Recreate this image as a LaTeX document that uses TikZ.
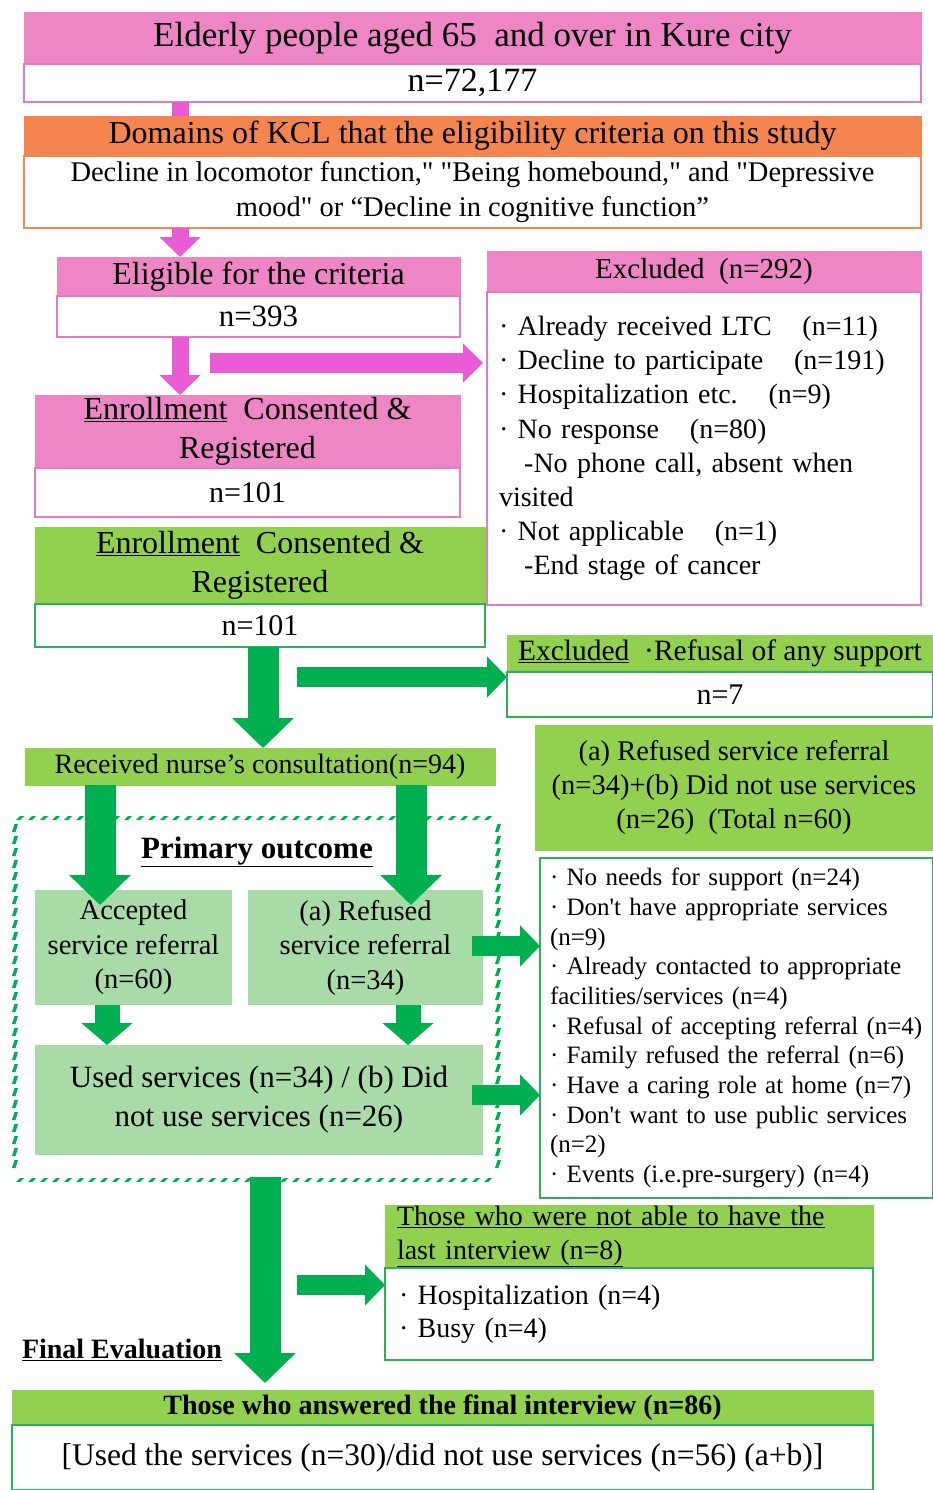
\documentclass[tikz,border=0pt]{standalone}
\usepackage{fontspec}
\setmainfont{Liberation Serif}
\usetikzlibrary{arrows.meta}

\definecolor{pinkH}{HTML}{EE86C6}
\definecolor{pinkB}{HTML}{E07CC8}
\definecolor{pinkA}{HTML}{EA5CD6}
\definecolor{orangeH}{HTML}{F5854F}
\definecolor{orangeB}{HTML}{F08A50}
\definecolor{greenH}{HTML}{92D050}
\definecolor{greenB}{HTML}{2EAF5A}
\definecolor{greenL}{HTML}{A8DBA8}
\definecolor{greenA}{HTML}{00B050}

\newcommand{\boxfont}[2]{\fontsize{#1}{#2}\selectfont}
\newcommand{\undl}[1]{\underline{#1}}

\begin{document}
\begin{tikzpicture}[x=1pt, y=-1pt,
  every node/.style={inner sep=0pt, outer sep=0pt},
  pinkhead/.style={fill=pinkH, draw=pinkH},
  pinkbox/.style={fill=white, draw=pinkB, line width=1.5pt},
  orangehead/.style={fill=orangeH, draw=orangeH},
  orangebox/.style={fill=white, draw=orangeB, line width=1.5pt},
  greenhead/.style={fill=greenH, draw=greenH},
  greenbox/.style={fill=white, draw=greenB, line width=1.5pt},
  lightbox/.style={fill=greenL},
  hatch/.style={fill=greenA},
  pinkarrow/.style={draw=pinkA, line width=17pt, -{Triangle[length=20pt,width=40pt]}},
  pinkside/.style={draw=pinkA, line width=20pt, -{Triangle[length=20pt,width=38pt]}},
  greenarrow/.style={draw=greenA, line width=31pt, -{Triangle[length=30pt,width=60pt]}},
  greenside/.style={draw=greenA, line width=20pt, -{Triangle[length=20pt,width=40pt]}},
  smallarrow/.style={draw=greenA, line width=25pt, -{Triangle[length=22pt,width=50pt]}}]
\useasboundingbox[fill=white] (0,0) rectangle (933,1490);

% top of the chart (pink / orange)
\node[pinkhead, minimum width=897pt, minimum height=52pt, font=\boxfont{35}{40}] (elderly) at (472.5,38) {Elderly people aged 65\ \ and over in Kure city};
\node[pinkbox, minimum width=897pt, minimum height=38pt, font=\boxfont{34}{40}] (elderlyN) at (472.5,83) {n=72,177};
\node[orangehead, minimum width=897pt, minimum height=40pt, font=\boxfont{32}{36}] (domains) at (472.5,136) {Domains of KCL that the eligibility criteria on this study};
\node[orangebox, minimum width=897pt, minimum height=72pt, align=center, font=\boxfont{28.5}{35}] (domainsN) at (472.5,192) {Decline in locomotor function,\textquotedbl{} \textquotedbl{}Being homebound,\textquotedbl{} and \textquotedbl{}Depressive\\ mood\textquotedbl{} or “Decline in cognitive function”};

\node[pinkhead, minimum width=403pt, minimum height=39pt, font=\boxfont{32}{36}] (eligible) at (258.5,276.5) {Eligible for the criteria};
\node[pinkbox, minimum width=403pt, minimum height=41pt, font=\boxfont{31}{36}] (eligibleN) at (258.5,316.5) {n=393};

\node[pinkhead, minimum width=434pt, minimum height=41pt, font=\boxfont{29}{34}] (excl) at (704,271.5) {Excluded\hspace{0.5em}(n=292)};
\node[pinkbox, minimum height=313pt, text width=410pt, inner xsep=12pt, align=left, font=\boxfont{28}{34.2}] (exclN) at (704,448.5) {%
· Already received LTC\hspace{1.1em}(n=11)\\
· Decline to participate\hspace{1.1em}(n=191)\\
· Hospitalization etc.\hspace{1.1em}(n=9)\\
· No response\hspace{1.1em}(n=80)\\
\hspace*{0.9em}-No phone call, absent when\\
visited\\
· Not applicable\hspace{1.1em}(n=1)\\
\hspace*{0.9em}-End stage of cancer};

\node[pinkhead, minimum width=425pt, minimum height=73pt, align=center, font=\boxfont{32}{39}] (enrollP) at (247.5,431.5) {\undl{Enrollment}\ \ Consented \&\\ Registered};
\node[pinkbox, minimum width=425pt, minimum height=49pt, font=\boxfont{30}{36}] (enrollPN) at (247.5,492.5) {n=101};

% green part
\node[greenhead, minimum width=450pt, minimum height=77pt, align=center, font=\boxfont{32}{39}] (enrollG) at (260,565.5) {\undl{Enrollment}\ \ Consented \&\\ Registered};
\node[greenbox, minimum width=450pt, minimum height=43pt, font=\boxfont{30}{36}] (enrollGN) at (260,625.5) {n=101};

\node[greenhead, minimum width=426pt, minimum height=37pt, font=\boxfont{29.5}{34}] (refusal) at (720,653.5) {\undl{Excluded}\ \ ·Refusal of any support};
\node[greenbox, minimum width=426pt, minimum height=45pt, font=\boxfont{30}{36}] (refusalN) at (720,694.5) {n=7};

\node[greenhead, minimum width=398pt, minimum height=125pt, align=center, font=\boxfont{28.5}{34}] (total) at (734,787.5) {(a) Refused service referral\\(n=34)+(b) Did not use services\\(n=26)\ \ (Total n=60)};

\node[greenbox, minimum height=340pt, text width=373pt, inner xsep=10pt, align=left, font=\boxfont{25}{29.7}] (reasons) at (736.5,1028) {%
· No needs for support (n=24)\\
· Don\textquotesingle t have appropriate services\\
(n=9)\\
· Already contacted to appropriate\\
facilities/services (n=4)\\
· Refusal of accepting referral (n=4)\\
· Family refused the referral (n=6)\\
· Have a caring role at home (n=7)\\
· Don\textquotesingle t want to use public services\\
(n=2)\\
· Events (i.e.pre-surgery) (n=4)};

\node[greenhead, minimum width=470pt, minimum height=37pt, font=\boxfont{28}{34}] (nurse) at (260,766.5) {Received nurse’s consultation(n=94)};

% primary outcome frame, slanted dashes
\foreach \x in {16,28,...,490} {
  \fill[hatch] (\x,820) -- (\x+4,820) -- (\x+8,816) -- (\x+4,816) -- cycle;
  \fill[hatch] (\x,1182) -- (\x+4,1182) -- (\x+8,1178) -- (\x+4,1178) -- cycle;
}
\foreach \y in {828,840,...,1172} {
  \fill[hatch] (12,\y+4) -- (15.5,\y+4) -- (18,\y-4) -- (14.5,\y-4) -- cycle;
  \fill[hatch] (495,\y+4) -- (498.5,\y+4) -- (501,\y-4) -- (497.5,\y-4) -- cycle;
}
\node[font=\bfseries\boxfont{31}{36}] (primary) at (257,852) {\undl{Primary outcome}};
\node[lightbox, minimum width=197pt, minimum height=115pt, align=center, font=\boxfont{28.5}{34.5}] (accepted) at (133.5,947.5) {Accepted\\service referral\\(n=60)};
\node[lightbox, minimum width=235pt, minimum height=115pt, align=center, font=\boxfont{28.5}{34.5}] (refused) at (365.5,947.5) {(a) Refused\\service referral\\(n=34)};
\node[lightbox, minimum width=448pt, minimum height=110pt, align=center, font=\boxfont{31}{39}] (used) at (259,1100) {Used services (n=34) / (b) Did\\not use services (n=26)};

% final evaluation
\node[greenhead, minimum height=63pt, text width=464pt, inner xsep=12pt, align=left, font=\boxfont{28}{34}] (notable) at (629,1236.5) {\undl{Those who were not able to have the}\\\undl{last interview (n=8)}};
\node[greenbox, minimum height=92pt, text width=460pt, inner xsep=14pt, align=left, font=\boxfont{28}{33}] (notableN) at (629,1314) {· Hospitalization (n=4)\\· Busy (n=4)};
\node[anchor=west, font=\bfseries\boxfont{28}{34}] (finaleval) at (22,1350) {\undl{Final Evaluation}};
\node[greenhead, minimum width=861pt, minimum height=35pt, font=\bfseries\boxfont{28}{34}] (answered) at (442.5,1407.5) {Those who answered the final interview (n=86)};
\node[greenbox, minimum width=861pt, minimum height=65pt, font=\boxfont{31.5}{36}] (answeredN) at (442.5,1457.5) {[Used the services (n=30)/did not use services (n=56) (a+b)]};

% columns and free ends of the arrows
\coordinate (colP) at (180,0);
\coordinate (colG) at (263,0);
\coordinate (colL) at (100,0);
\coordinate (colR) at (411,0);
\coordinate (colSL) at (107,0);
\coordinate (colSR) at (408,0);
\coordinate (pinkstart) at (210,363);
\coordinate (greenstart) at (297,677);
\coordinate (reasonA) at (472,946);
\coordinate (reasonB) at (472,1095);
\coordinate (framebottom) at (265,1177);
\coordinate (lateststart) at (297,1285);

% arrows
\draw[draw=pinkA, line width=17pt] (elderlyN.south -| colP) -- (domains.north -| colP);
\draw[pinkarrow] (domainsN.south -| colP) -- (eligible.north -| colP);
\draw[pinkarrow] (eligibleN.south -| colP) -- (enrollP.north -| colP);
\draw[pinkside, shorten >=4pt] (pinkstart) -- (exclN.west |- pinkstart);
\draw[greenarrow] (enrollGN.south -| colG) -- (nurse.north -| colG);
\draw[greenside] (greenstart) -- (refusalN.west |- greenstart);
\draw[greenarrow] (nurse.south -| colL) -- ([yshift=-15pt]accepted.north -| colL);
\draw[greenarrow] (nurse.south -| colR) -- ([yshift=-15pt]refused.north -| colR);
\draw[smallarrow] (accepted.south -| colSL) -- (used.north -| colSL);
\draw[smallarrow] (refused.south -| colSR) -- (used.north -| colSR);
\draw[greenside] (reasonA) -- (reasons.west |- reasonA);
\draw[greenside] (reasonB) -- (reasons.west |- reasonB);
\draw[greenarrow, shorten >=7pt] (framebottom) -- (answered.north -| framebottom);
\draw[greenside] (lateststart) -- (notableN.west |- lateststart);
\end{tikzpicture}
\end{document}
